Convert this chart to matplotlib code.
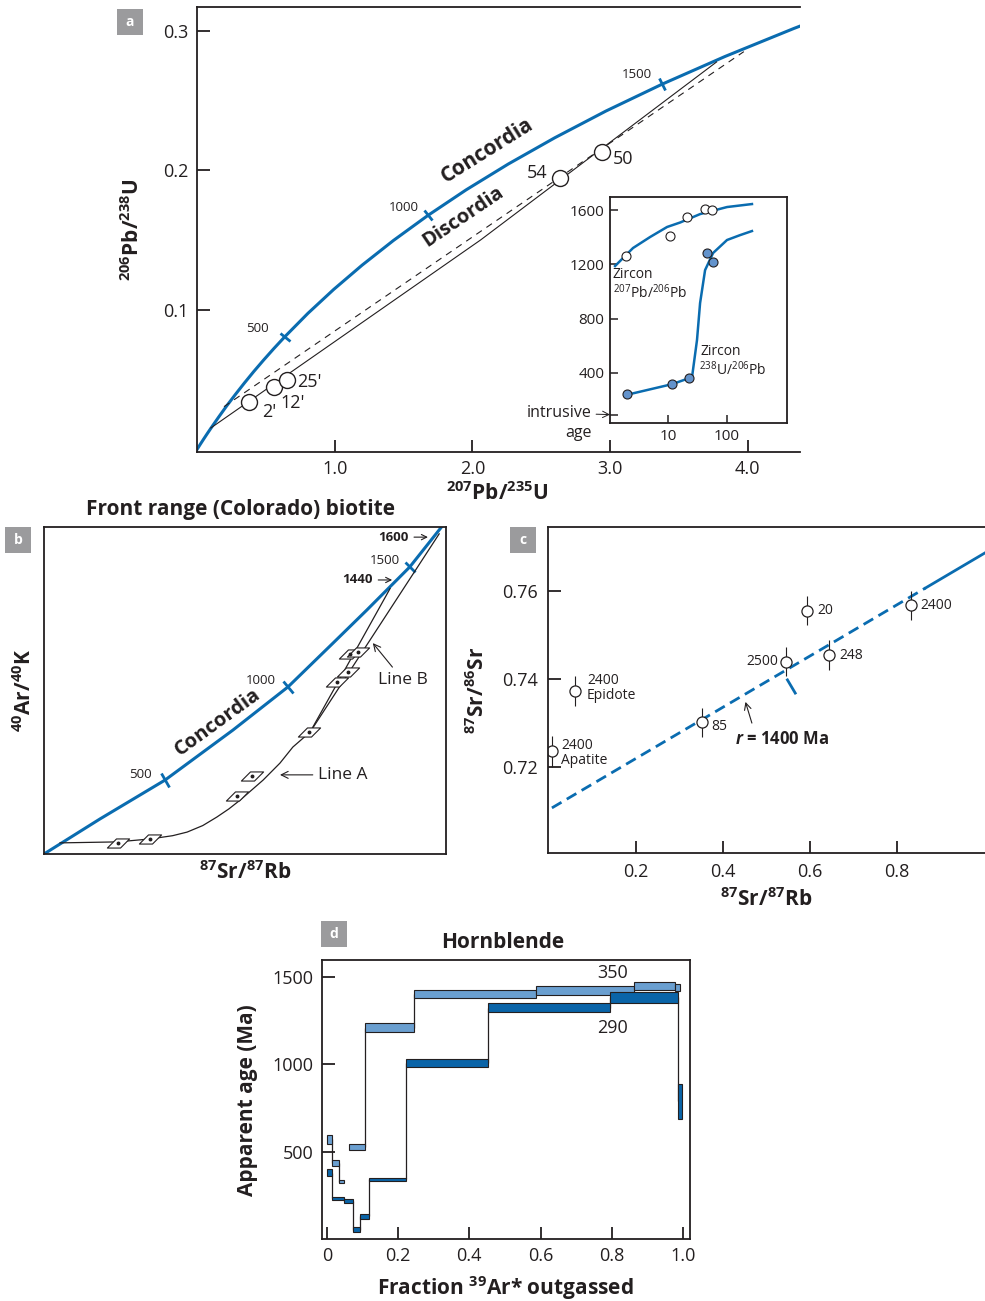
import numpy as np
import matplotlib
matplotlib.use("Agg")
import matplotlib.pyplot as plt
from matplotlib.markers import MarkerStyle
from matplotlib.path import Path
from matplotlib.patches import Rectangle
from matplotlib.transforms import Affine2D

INK = '#231f20'
BLUE = '#0a6cb0'
LIGHT = '#6a9fd0'
DARK = '#0a64a8'
PALE = '#6393cc'
GREY = '#9b9b9d'

plt.rcParams['font.family'] = ['Open Sans', 'DejaVu Sans']
plt.rcParams['mathtext.fontset'] = 'custom'
plt.rcParams['mathtext.rm'] = 'Open Sans'
plt.rcParams['mathtext.it'] = 'Open Sans:italic'
plt.rcParams['mathtext.bf'] = 'Open Sans:bold'
plt.rcParams['mathtext.bfit'] = 'Open Sans:italic:bold'
plt.rcParams['axes.linewidth'] = 1.3
plt.rcParams['axes.edgecolor'] = INK
plt.rcParams['text.color'] = INK
plt.rcParams['xtick.color'] = INK
plt.rcParams['ytick.color'] = INK

# ---------------- a : U-Pb concordia ----------------
conc_x = [0, 0.0249, 0.0505, 0.0767, 0.1035, 0.1592, 0.2175, 0.2792, 0.3437, 0.4116,
          0.4828, 0.5577, 0.6366, 0.8056, 0.9925, 1.1988, 1.4264, 1.6774, 1.9546,
          2.2604, 2.5977, 2.9700, 3.3812, 3.8346, 4.3350, 4.4411]
conc_y = [0, 0.0039, 0.0078, 0.0117, 0.0156, 0.0235, 0.0315, 0.0395, 0.0476, 0.0558,
          0.0640, 0.0723, 0.0807, 0.0976, 0.1147, 0.1321, 0.1498, 0.1678, 0.1861,
          0.2046, 0.2234, 0.2426, 0.2620, 0.2817, 0.3018, 0.3058]
conc_ages = ['500', '1000', '1500']
conc_tick_x = [0.6366, 1.6774, 3.3812]
conc_tick_y = [0.0807, 0.1678, 0.2620]

disc_x = [0.10, 2.06, 3.774]
disc_y = [0.0154, 0.1502, 0.2778]
disc_dash_x = [0.196, 3.972]
disc_dash_y = [0.0307, 0.2852]

zircon_names = ["2'", "12'", "25'", "54", "50"]
zircon_x = [0.378, 0.559, 0.657, 2.636, 2.944]
zircon_y = [0.0343, 0.0450, 0.0498, 0.1944, 0.2135]

# inset : zircon apparent ages (log x)
pbpb_pts_x = [1.89, 10.7, 20.9, 42.5, 56.0]
pbpb_pts_y = [1261, 1408, 1548, 1605, 1600]
pbpb_curve_x = [1.22, 2.48, 4.86, 9.5, 15.9, 34.9, 101, 270]
pbpb_curve_y = [1187, 1320, 1401, 1475, 1508, 1570, 1622, 1644]
upb_pts_x = [1.96, 11.5, 22.6, 45.9, 58.2]
upb_pts_y = [242, 316, 360, 1283, 1216]
upb_curve_x = [1.82, 11.5, 25.4, 30.9, 34.9, 42.5, 58.2, 101, 169, 270]
upb_curve_y = [235, 316, 368, 641, 914, 1157, 1283, 1379, 1415, 1445]
intrusive_age = 92

# ---------------- b : Front range biotite ----------------
concb_x = [0, 0.139, 0.301, 0.470, 0.607, 0.719, 0.803, 0.910, 0.985, 0.995]
concb_y = [0, 0.107, 0.226, 0.379, 0.511, 0.645, 0.746, 0.878, 0.994, 1.01]
concb_ages = ['500', '1000', '1500']
concb_tick_x = [0.301, 0.607, 0.910]
concb_tick_y = [0.226, 0.511, 0.878]

lineA_x = [0.040, 0.182, 0.264, 0.320, 0.356, 0.395, 0.430, 0.460, 0.488, 0.545, 0.587,
           0.619, 0.662, 0.861]
lineA_y = [0.034, 0.037, 0.046, 0.056, 0.067, 0.087, 0.113, 0.138, 0.165, 0.226, 0.278,
           0.327, 0.373, 0.812]
lineB_x = [0.662, 0.983]
lineB_y = [0.373, 0.979]

bio_x = [0.184, 0.264, 0.480, 0.517, 0.659, 0.729, 0.756, 0.761, 0.781]
bio_y = [0.034, 0.046, 0.177, 0.239, 0.373, 0.526, 0.557, 0.612, 0.618]

# ---------------- c : Rb-Sr isochron ----------------
sr_rb = [0.006, 0.059, 0.352, 0.544, 0.593, 0.643, 0.832]
sr_sr = [0.7236, 0.7373, 0.7302, 0.7439, 0.7555, 0.7455, 0.7568]
sr_err = [0.0035, 0.0034, 0.0033, 0.0033, 0.0033, 0.0034, 0.0033]
sr_names = ['2400\nApatite', '2400\nEpidote', '85', '2500', '20', '248', '2400']
iso_dash_x = [0.006, 0.866]
iso_dash_y = [0.7107, 0.7607]
iso_solid_x = [0.866, 1.005]
iso_solid_y = [0.7607, 0.7688]

# ---------------- d : Hornblende age spectra ----------------
h350_x0 = [0.000, 0.013, 0.033, 0.063, 0.107, 0.245, 0.587, 0.862, 0.978]
h350_x1 = [0.013, 0.033, 0.049, 0.107, 0.245, 0.587, 0.862, 0.978, 0.992]
h350_age = [570, 432, 327, 527, 1207, 1401, 1420, 1446, 1440]
h350_err = [25, 17, 9, 17, 25, 25, 25, 25, 20]
h290_x0 = [0.000, 0.013, 0.049, 0.074, 0.093, 0.118, 0.221, 0.453, 0.795, 0.986]
h290_x1 = [0.013, 0.049, 0.074, 0.093, 0.118, 0.221, 0.453, 0.795, 0.986, 0.998]
h290_age = [380, 232, 215, 54, 129, 341, 1006, 1323, 1382, 787]
h290_err = [22, 10, 12, 13, 13, 10, 25, 28, 31, 99]

W, H = 985, 1301
fig = plt.figure(figsize=(W / 100, H / 100), dpi=100)


def box(l, t, r, b):
    return [l / W, 1 - b / H, (r - l) / W, (b - t) / H]


def px(x, y):
    return x / W, 1 - y / H


def curve_angle(ax, xs, ys, x0):
    pts = ax.transData.transform(np.column_stack([xs, ys]))
    i = int(np.clip(np.searchsorted(xs, x0), 1, len(xs) - 1))
    d = pts[i] - pts[i - 1]
    return np.degrees(np.arctan2(d[1], d[0]))


def panel_tag(letter, l, t):
    fig.add_artist(Rectangle(px(l, t + 26), 26 / W, 26 / H, transform=fig.transFigure,
                             facecolor=GREY, edgecolor='none'))
    fig.text(*px(l + 13, t + 13), letter, color='white', fontsize=10, fontweight='bold',
             ha='center', va='center')


ax_a = fig.add_axes(box(197, 7, 800, 452))
ax_in = fig.add_axes(box(610, 197, 787, 423))
ax_b = fig.add_axes(box(44, 527, 446, 854))
ax_c = fig.add_axes(box(548, 527, 986, 853))
ax_d = fig.add_axes(box(322, 960, 690, 1239))

# ----- a -----
ax_a.set_xlim(0, 4.38)
ax_a.set_ylim(-0.0018, 0.3172)
ax_a.plot(conc_x, conc_y, color=BLUE, lw=2.2)
for x0, y0, lab in zip(conc_tick_x, conc_tick_y, conc_ages):
    ang = curve_angle(ax_a, conc_x, conc_y, x0)
    ax_a.plot(x0, y0, marker=MarkerStyle('|', transform=Affine2D().rotate_deg(ang)),
              ms=9, mew=2, color=BLUE)
ax_a.text(0.441, 0.0864, '500', fontsize=9.5, ha='center', va='center')
ax_a.text(1.500, 0.1738, '1000', fontsize=9.5, ha='center', va='center')
ax_a.text(3.193, 0.2685, '1500', fontsize=9.5, ha='center', va='center')
ax_a.plot(disc_x, disc_y, color=INK, lw=0.8)
ax_a.plot(disc_dash_x, disc_dash_y, color=INK, lw=0.8, dashes=(6, 5))
ax_a.plot(zircon_x, zircon_y, 'o', ms=11.5, mfc='white', mec=INK, mew=1)
name_pos = [(0.523, 0.0271), (0.693, 0.0336), (0.813, 0.0486), (2.472, 0.198), (3.097, 0.208)]
for (tx, ty), lab in zip(name_pos, zircon_names):
    ax_a.text(tx, ty, lab, fontsize=13, ha='center', va='center')
ax_a.text(2.108, 0.2140, 'Concordia', fontsize=15, fontweight='bold', rotation=32,
          ha='center', va='center', rotation_mode='anchor')
ax_a.text(1.936, 0.1667, 'Discordia', fontsize=14.5, fontweight='bold', rotation=34,
          ha='center', va='center', rotation_mode='anchor')
ax_a.set_xticks([1, 2, 3, 4], ['1.0', '2.0', '3.0', '4.0'])
ax_a.set_yticks([0.1, 0.2, 0.3], ['0.1', '0.2', '0.3'])
ax_a.tick_params(direction='in', length=9, width=1.3, labelsize=13, pad=6)
ax_a.spines['right'].set_visible(False)
fig.text(*px(133, 230), r'$^{\mathbf{206}}$Pb/$^{\mathbf{238}}$U', rotation=90,
         fontsize=15, fontweight='bold', ha='center', va='center')
fig.text(*px(497, 494), r'$^{\mathbf{207}}$Pb/$^{\mathbf{235}}$U',
         fontsize=15, fontweight='bold', ha='center', va='center')

# ----- inset -----
ax_in.set_xscale('log')
ax_in.set_xlim(1, 1075)
ax_in.set_ylim(30, 1696)
ax_in.plot(pbpb_curve_x, pbpb_curve_y, color=BLUE, lw=1.8)
ax_in.plot(upb_curve_x, upb_curve_y, color=BLUE, lw=1.8)
ax_in.plot(pbpb_pts_x, pbpb_pts_y, 'o', ms=6.5, mfc='white', mec=INK, mew=0.8)
ax_in.plot(upb_pts_x, upb_pts_y, 'o', ms=6.5, mfc=PALE, mec=INK, mew=0.8)
ax_in.set_xticks([10, 100], ['10', '100'])
ax_in.xaxis.set_minor_locator(matplotlib.ticker.NullLocator())
ax_in.set_yticks([intrusive_age, 400, 800, 1200, 1600], ['', '400', '800', '1200', '1600'])
ax_in.tick_params(direction='in', length=6, width=1.1, labelsize=11, pad=4)
ax_in.text(1.12, 1070, 'Zircon', fontsize=10, ha='left', va='bottom')
ax_in.text(1.12, 1060, r'$^{207}$Pb/$^{206}$Pb', fontsize=10, ha='left', va='top')
ax_in.text(36, 500, 'Zircon', fontsize=10, ha='left', va='bottom')
ax_in.text(34, 490, r'$^{238}$U/$^{206}$Pb', fontsize=10, ha='left', va='top')
ax_in.annotate('intrusive', xy=(0, intrusive_age), xycoords=ax_in.get_yaxis_transform(),
               xytext=(-13, 1), textcoords='offset points', ha='right', va='center',
               fontsize=11.5, arrowprops=dict(arrowstyle='->', lw=0.7, color=INK,
                                              shrinkA=1, shrinkB=0))
ax_in.annotate('age', xy=(0, intrusive_age), xycoords=ax_in.get_yaxis_transform(),
               xytext=(-13, -13), textcoords='offset points', ha='right', va='center',
               fontsize=11.5)

# ----- b -----
ax_b.set_xlim(0, 1)
ax_b.set_ylim(0, 1)
ax_b.plot(concb_x, concb_y, color=BLUE, lw=2.2)
for x0, y0 in zip(concb_tick_x, concb_tick_y):
    ang = curve_angle(ax_b, concb_x, concb_y, x0)
    ax_b.plot(x0, y0, marker=MarkerStyle('|', transform=Affine2D().rotate_deg(ang)),
              ms=11, mew=2, color=BLUE)
ax_b.text(0.241, 0.242, '500', fontsize=9.5, ha='center', va='center')
ax_b.text(0.540, 0.532, '1000', fontsize=9.5, ha='center', va='center')
ax_b.text(0.848, 0.899, '1500', fontsize=9.5, ha='center', va='center')
ax_b.plot(lineA_x, lineA_y, color=INK, lw=0.9)
ax_b.plot(lineB_x, lineB_y, color=INK, lw=0.9)
para = Path([(-1, -0.41), (0.18, -0.41), (1, 0.41), (-0.18, 0.41), (-1, -0.41)],
            [Path.MOVETO, Path.LINETO, Path.LINETO, Path.LINETO, Path.CLOSEPOLY])
ax_b.plot(bio_x, bio_y, ls='none', marker=para, ms=16, mfc='white', mec=INK, mew=0.8)
ax_b.plot(bio_x, bio_y, ls='none', marker='o', ms=1.8, color=INK)
ax_b.text(0.433, 0.404, 'Concordia', fontsize=14.5, fontweight='bold', rotation=36,
          ha='center', va='center', rotation_mode='anchor')
arrow = dict(arrowstyle='->', lw=0.8, color=INK, shrinkA=2, shrinkB=0)
ax_b.annotate('1600', xy=(0.955, 0.969), xytext=(-14, 0), textcoords='offset points',
              ha='right', va='center', fontsize=9.5, fontweight='bold', arrowprops=arrow)
ax_b.annotate('1440', xy=(0.866, 0.838), xytext=(-14, 0), textcoords='offset points',
              ha='right', va='center', fontsize=9.5, fontweight='bold', arrowprops=arrow)
ax_b.annotate('Line B', xy=(0.818, 0.645), xytext=(0.893, 0.532), ha='center',
              va='center', fontsize=12.5, arrowprops=arrow)
ax_b.annotate('Line A', xy=(0.587, 0.242), xytext=(0.744, 0.242), ha='center',
              va='center', fontsize=12.5, arrowprops=arrow)
ax_b.set_xticks([])
ax_b.set_yticks([])
fig.text(*px(241, 510), 'Front range (Colorado) biotite', fontsize=15, fontweight='bold',
         ha='center', va='center')
fig.text(*px(245, 873), r'$^{\mathbf{87}}$Sr/$^{\mathbf{87}}$Rb', fontsize=15,
         fontweight='bold', ha='center', va='center')
fig.text(*px(25, 690), r'$^{\mathbf{40}}$Ar/$^{\mathbf{40}}$K', fontsize=15, rotation=90,
         fontweight='bold', ha='center', va='center')

# ----- c -----
ax_c.set_xlim(-0.003, 1.005)
ax_c.set_ylim(0.70045, 0.77455)
ax_c.plot(iso_dash_x, iso_dash_y, color=BLUE, lw=2, dashes=(4, 2.2))
ax_c.plot(iso_solid_x, iso_solid_y, color=BLUE, lw=2)
ax_c.plot([0.548, 0.566], [0.7398, 0.7368], color=BLUE, lw=2)
ax_c.errorbar(sr_rb, sr_sr, yerr=sr_err, fmt='o', ms=8, mfc='white', mec=INK, mew=0.9,
              ecolor=INK, elinewidth=0.8, capsize=0)
name_off = [(0.0273, 0.7232, 'left'), (0.087, 0.7380, 'left'), (0.372, 0.7293, 'left'),
            (0.527, 0.7439, 'right'), (0.6175, 0.7555, 'left'), (0.668, 0.7453, 'left'),
            (0.855, 0.7568, 'left')]
for (tx, ty, ha), lab in zip(name_off, sr_names):
    ax_c.text(tx, ty, lab, fontsize=10, ha=ha, va='center', linespacing=1.05)
ax_c.annotate(r'$\mathbfit{r}$ = 1400 Ma', xy=(0.4514, 0.7348), xytext=(0.4277, 0.7264),
              ha='left', va='center', fontsize=12, fontweight='bold',
              arrowprops=dict(arrowstyle='->', lw=0.8, color=INK, shrinkA=3, shrinkB=0,
                              relpos=(0.2, 1.0)))
ax_c.set_xticks([0.2, 0.4, 0.6, 0.8], ['0.2', '0.4', '0.6', '0.8'])
ax_c.set_yticks([0.72, 0.74, 0.76], ['0.72', '0.74', '0.76'])
ax_c.tick_params(direction='in', length=9, width=1.3, labelsize=13, pad=7)
ax_c.spines['right'].set_visible(False)
fig.text(*px(766, 900), r'$^{\mathbf{87}}$Sr/$^{\mathbf{87}}$Rb', fontsize=15,
         fontweight='bold', ha='center', va='center')
fig.text(*px(478, 690), r'$^{\mathbf{87}}$Sr/$^{\mathbf{86}}$Sr', fontsize=15, rotation=90,
         fontweight='bold', ha='center', va='center')

# ----- d -----
ax_d.set_xlim(-0.014, 1.02)
ax_d.set_ylim(0, 1595)
for x0, x1, age, err, col in [(h350_x0, h350_x1, h350_age, h350_err, LIGHT),
                              (h290_x0, h290_x1, h290_age, h290_err, DARK)]:
    x0 = np.array(x0)
    x1 = np.array(x1)
    age = np.array(age)
    err = np.array(err)
    link = np.isclose(x1[:-1], x0[1:])
    ax_d.vlines(x1[:-1][link], age[:-1][link], age[1:][link], color=INK, lw=0.9, zorder=2)
    ax_d.bar(x0, 2 * err, width=x1 - x0, bottom=age - err, align='edge', color=col,
             edgecolor=INK, linewidth=0.8, zorder=3)
ax_d.text(0.803, 1523, '350', fontsize=13, ha='center', va='center')
ax_d.text(0.803, 1206, '290', fontsize=13, ha='center', va='center')
ax_d.set_xticks([0, 0.2, 0.4, 0.6, 0.8, 1.0], ['0', '0.2', '0.4', '0.6', '0.8', '1.0'])
ax_d.set_yticks([500, 1000, 1500], ['500', '1000', '1500'])
ax_d.tick_params(direction='in', length=9, width=1.3, labelsize=13, pad=6)
fig.text(*px(503, 942), 'Hornblende', fontsize=15, fontweight='bold', ha='center',
         va='center')
fig.text(*px(505, 1288), r'Fraction $^{\mathbf{39}}$Ar* outgassed', fontsize=15,
         fontweight='bold', ha='center', va='center')
fig.text(*px(248, 1100), 'Apparent age (Ma)', fontsize=15, fontweight='bold',
         rotation=90, ha='center', va='center')

panel_tag('a', 117, 9)
panel_tag('b', 5, 527)
panel_tag('c', 510, 527)
panel_tag('d', 321, 921)

fig.savefig('out.png', dpi=100)
